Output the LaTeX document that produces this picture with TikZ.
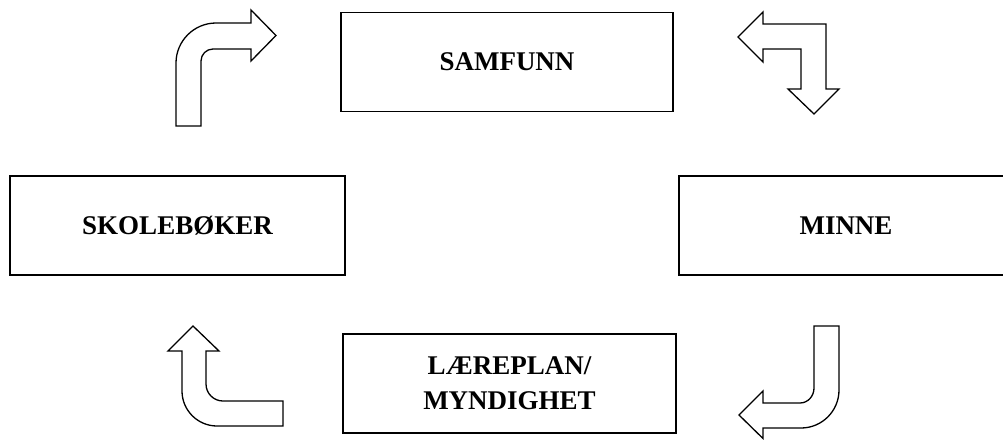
\documentclass[tikz,border=0pt]{standalone}
\usepackage{fontspec}
\setmainfont{Liberation Serif}
\begin{document}
\begin{tikzpicture}[x=1pt,y=-1pt,
  box/.style={draw=black, line width=1.5pt, rectangle, inner sep=0pt,
    minimum height=99pt, font=\fontsize{27}{35}\selectfont\bfseries, align=center},
  bentarrow/.style={draw=black, line width=1.3pt, fill=white, line join=miter}]
\useasboundingbox (0,0) rectangle (1003,439);
\clip (0,0) rectangle (1003,439);

% the four boxes
\node[box, minimum width=332pt] (samfunn) at (507,62) {SAMFUNN};
\node[box, minimum width=335pt] (skole) at (177.5,225.5) {SKOLEBØKER};
\node[box, minimum width=334pt] (minne) at (846,225.5) {MINNE};
\node[box, minimum width=333pt] (plan) at (509.5,383.5) {LÆREPLAN/\\MYNDIGHET};

% bent arrow: up, then right towards SAMFUNN
\path[bentarrow] (176,126) -- (176,63) .. controls (176,41) and (194,23) .. (216,23)
  -- (251,23) -- (251,10) -- (276,35.5) -- (251,61) -- (251,49) -- (213,49)
  .. controls (206.4,49) and (201,54.4) .. (201,61) -- (201,126) -- cycle;

% double-headed corner arrow: left and down
\path[bentarrow] (763,12) -- (738,37) -- (763,62) -- (763,49) -- (801,49)
  -- (801,89) -- (788,89) -- (814,114) -- (839,89) -- (826,89) -- (826,24)
  -- (763,24) -- cycle;

% bent arrow: down, then left towards LÆREPLAN
\path[bentarrow] (814,326) -- (839,326) -- (839,390)
  .. controls (839,411) and (822,428) .. (801,428) -- (763,428) -- (763,438.5)
  -- (739,415) -- (763,391) -- (763,403) -- (800,403)
  .. controls (808,403) and (814,396) .. (814,388) -- cycle;

% bent arrow: left, then up towards SKOLEBØKER
\path[bentarrow] (193,326) -- (219,351) -- (206,351) -- (206,384)
  .. controls (206,393.4) and (213.6,401) .. (223,401) -- (283,401) -- (283,426)
  -- (217,426) .. controls (197.7,426) and (182,410.3) .. (182,391) -- (182,351)
  -- (168,351) -- cycle;
\end{tikzpicture}
\end{document}
